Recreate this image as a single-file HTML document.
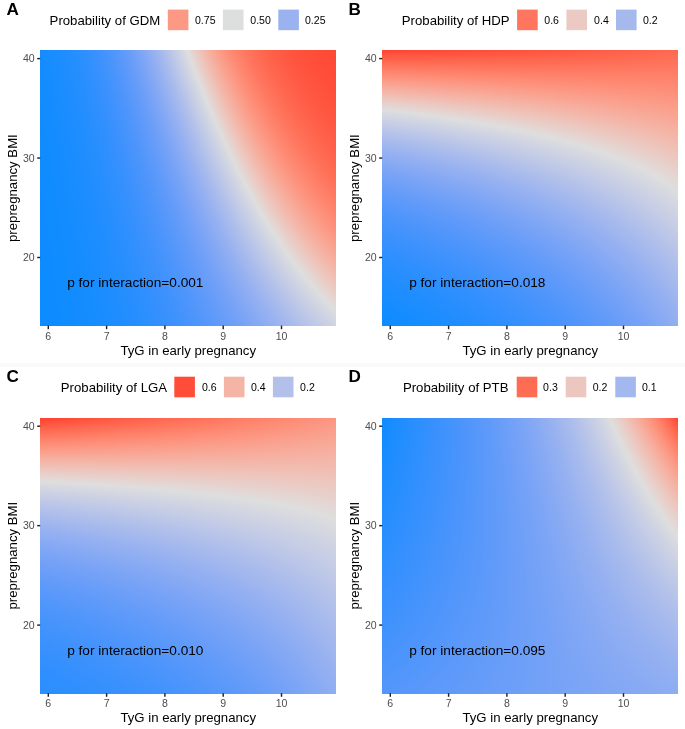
<!DOCTYPE html>
<html><head><meta charset="utf-8"><style>
html,body{margin:0;padding:0;background:#fff;}
#root{position:relative;width:685px;height:729px;overflow:hidden;background:#fff;font-family:"Liberation Sans", sans-serif;}
svg text{font-family:"Liberation Sans", sans-serif;}
#ov{filter:blur(0.3px);}
canvas{filter:blur(0.4px);}
</style></head><body><div id="root">
<div style="position:absolute;left:0;top:363px;width:685px;height:4px;background:#fafafa"></div>
<canvas id="c0" width="296" height="276" style="position:absolute;left:40px;top:50px;width:296px;height:276px;background:linear-gradient(62deg,#0c8cff 0%,#1a8cff 35%,#9ab4f0 58%,#dedede 70%,#f9a08a 80%,#ff5a40 100%)"></canvas><canvas id="c1" width="296" height="276" style="position:absolute;left:382px;top:50px;width:296px;height:276px;background:linear-gradient(12deg,#1a8cff 0%,#80a4f4 35%,#dedede 65%,#fa9078 85%,#ff5038 100%)"></canvas><canvas id="c2" width="296" height="276" style="position:absolute;left:40px;top:418px;width:296px;height:276px;background:linear-gradient(8deg,#2a8cff 0%,#90acf2 40%,#dedede 67%,#f8a894 85%,#ff5a40 100%)"></canvas><canvas id="c3" width="296" height="276" style="position:absolute;left:382px;top:418px;width:296px;height:276px;background:linear-gradient(61deg,#1a8cff 0%,#70a0f5 45%,#b0c0ee 70%,#dedede 84%,#ff6a50 100%)"></canvas>
<svg id="ov" width="685" height="729" style="position:absolute;left:0;top:0">
<g id="g0" transform="translate(0,0)"><text x="6.5" y="14.6" font-size="17.1" font-weight="bold" fill="#000">A</text><g transform="translate(0,0)"><text x="49.6" y="24.85" font-size="13.2" fill="#000">Probability of GDM</text><rect class="sw" x="167.8" y="9.6" width="20.6" height="20.6" fill="#fc9985"/><text x="195.0" y="23.6" font-size="10.56" fill="#000">0.75</text><rect class="sw" x="222.9" y="9.6" width="20.6" height="20.6" fill="#dddede"/><text x="250.3" y="23.6" font-size="10.56" fill="#000">0.50</text><rect class="sw" x="278.3" y="9.6" width="20.6" height="20.6" fill="#9ab3f0"/><text x="305.0" y="23.6" font-size="10.56" fill="#000">0.25</text></g><line x1="37.2" x2="40.2" y1="58.6" y2="58.6" stroke="#222" stroke-width="1.45"/><text x="34.7" y="62.38" font-size="10.56" fill="#4d4d4d" text-anchor="end">40</text><line x1="37.2" x2="40.2" y1="158.05" y2="158.05" stroke="#222" stroke-width="1.45"/><text x="34.7" y="161.83" font-size="10.56" fill="#4d4d4d" text-anchor="end">30</text><line x1="37.2" x2="40.2" y1="257.5" y2="257.5" stroke="#222" stroke-width="1.45"/><text x="34.7" y="261.28" font-size="10.56" fill="#4d4d4d" text-anchor="end">20</text><line x1="48.30" x2="48.30" y1="325.6" y2="329.2" stroke="#222" stroke-width="1.45"/><text x="48.30" y="339.8" font-size="10.56" fill="#4d4d4d" text-anchor="middle">6</text><line x1="106.60" x2="106.60" y1="325.6" y2="329.2" stroke="#222" stroke-width="1.45"/><text x="106.60" y="339.8" font-size="10.56" fill="#4d4d4d" text-anchor="middle">7</text><line x1="164.90" x2="164.90" y1="325.6" y2="329.2" stroke="#222" stroke-width="1.45"/><text x="164.90" y="339.8" font-size="10.56" fill="#4d4d4d" text-anchor="middle">8</text><line x1="223.20" x2="223.20" y1="325.6" y2="329.2" stroke="#222" stroke-width="1.45"/><text x="223.20" y="339.8" font-size="10.56" fill="#4d4d4d" text-anchor="middle">9</text><line x1="281.50" x2="281.50" y1="325.6" y2="329.2" stroke="#222" stroke-width="1.45"/><text x="281.50" y="339.8" font-size="10.56" fill="#4d4d4d" text-anchor="middle">10</text><text x="188.2" y="354.9" font-size="13.2" fill="#000" text-anchor="middle">TyG in early pregnancy</text><text transform="translate(17.3,188.1) rotate(-90)" x="0" y="0" font-size="13.2" fill="#000" text-anchor="middle">prepregnancy BMI</text><text x="67.2" y="287.3" font-size="13.66" fill="#000">p for interaction=0.001</text></g><g id="g1" transform="translate(342,0)"><text x="6.5" y="14.6" font-size="17.1" font-weight="bold" fill="#000">B</text><g transform="translate(0,0)"><text x="59.8" y="24.85" font-size="13.2" fill="#000">Probability of HDP</text><rect class="sw" x="175.1" y="9.6" width="20.6" height="20.6" fill="#ff755e"/><text x="202.3" y="23.6" font-size="10.56" fill="#000">0.6</text><rect class="sw" x="224.4" y="9.6" width="20.6" height="20.6" fill="#ebcac3"/><text x="252.1" y="23.6" font-size="10.56" fill="#000">0.4</text><rect class="sw" x="274.0" y="9.6" width="20.6" height="20.6" fill="#a5b9ed"/><text x="300.9" y="23.6" font-size="10.56" fill="#000">0.2</text></g><line x1="37.2" x2="40.2" y1="58.6" y2="58.6" stroke="#222" stroke-width="1.45"/><text x="34.7" y="62.38" font-size="10.56" fill="#4d4d4d" text-anchor="end">40</text><line x1="37.2" x2="40.2" y1="158.05" y2="158.05" stroke="#222" stroke-width="1.45"/><text x="34.7" y="161.83" font-size="10.56" fill="#4d4d4d" text-anchor="end">30</text><line x1="37.2" x2="40.2" y1="257.5" y2="257.5" stroke="#222" stroke-width="1.45"/><text x="34.7" y="261.28" font-size="10.56" fill="#4d4d4d" text-anchor="end">20</text><line x1="48.30" x2="48.30" y1="325.6" y2="329.2" stroke="#222" stroke-width="1.45"/><text x="48.30" y="339.8" font-size="10.56" fill="#4d4d4d" text-anchor="middle">6</text><line x1="106.60" x2="106.60" y1="325.6" y2="329.2" stroke="#222" stroke-width="1.45"/><text x="106.60" y="339.8" font-size="10.56" fill="#4d4d4d" text-anchor="middle">7</text><line x1="164.90" x2="164.90" y1="325.6" y2="329.2" stroke="#222" stroke-width="1.45"/><text x="164.90" y="339.8" font-size="10.56" fill="#4d4d4d" text-anchor="middle">8</text><line x1="223.20" x2="223.20" y1="325.6" y2="329.2" stroke="#222" stroke-width="1.45"/><text x="223.20" y="339.8" font-size="10.56" fill="#4d4d4d" text-anchor="middle">9</text><line x1="281.50" x2="281.50" y1="325.6" y2="329.2" stroke="#222" stroke-width="1.45"/><text x="281.50" y="339.8" font-size="10.56" fill="#4d4d4d" text-anchor="middle">10</text><text x="188.2" y="354.9" font-size="13.2" fill="#000" text-anchor="middle">TyG in early pregnancy</text><text transform="translate(17.3,188.1) rotate(-90)" x="0" y="0" font-size="13.2" fill="#000" text-anchor="middle">prepregnancy BMI</text><text x="67.2" y="287.3" font-size="13.66" fill="#000">p for interaction=0.018</text></g><g id="g2" transform="translate(0,367.6)"><text x="6.5" y="14.6" font-size="17.1" font-weight="bold" fill="#000">C</text><g transform="translate(0,-0.5)"><text x="60.8" y="24.85" font-size="13.2" fill="#000">Probability of LGA</text><rect class="sw" x="174.3" y="9.6" width="20.6" height="20.6" fill="#ff4d39"/><text x="202.0" y="23.6" font-size="10.56" fill="#000">0.6</text><rect class="sw" x="223.9" y="9.6" width="20.6" height="20.6" fill="#f4b5a7"/><text x="251.0" y="23.6" font-size="10.56" fill="#000">0.4</text><rect class="sw" x="272.9" y="9.6" width="20.6" height="20.6" fill="#b2c0ea"/><text x="300.1" y="23.6" font-size="10.56" fill="#000">0.2</text></g><line x1="37.2" x2="40.2" y1="58.6" y2="58.6" stroke="#222" stroke-width="1.45"/><text x="34.7" y="62.38" font-size="10.56" fill="#4d4d4d" text-anchor="end">40</text><line x1="37.2" x2="40.2" y1="158.05" y2="158.05" stroke="#222" stroke-width="1.45"/><text x="34.7" y="161.83" font-size="10.56" fill="#4d4d4d" text-anchor="end">30</text><line x1="37.2" x2="40.2" y1="257.5" y2="257.5" stroke="#222" stroke-width="1.45"/><text x="34.7" y="261.28" font-size="10.56" fill="#4d4d4d" text-anchor="end">20</text><line x1="48.30" x2="48.30" y1="325.6" y2="329.2" stroke="#222" stroke-width="1.45"/><text x="48.30" y="339.8" font-size="10.56" fill="#4d4d4d" text-anchor="middle">6</text><line x1="106.60" x2="106.60" y1="325.6" y2="329.2" stroke="#222" stroke-width="1.45"/><text x="106.60" y="339.8" font-size="10.56" fill="#4d4d4d" text-anchor="middle">7</text><line x1="164.90" x2="164.90" y1="325.6" y2="329.2" stroke="#222" stroke-width="1.45"/><text x="164.90" y="339.8" font-size="10.56" fill="#4d4d4d" text-anchor="middle">8</text><line x1="223.20" x2="223.20" y1="325.6" y2="329.2" stroke="#222" stroke-width="1.45"/><text x="223.20" y="339.8" font-size="10.56" fill="#4d4d4d" text-anchor="middle">9</text><line x1="281.50" x2="281.50" y1="325.6" y2="329.2" stroke="#222" stroke-width="1.45"/><text x="281.50" y="339.8" font-size="10.56" fill="#4d4d4d" text-anchor="middle">10</text><text x="188.2" y="354.9" font-size="13.2" fill="#000" text-anchor="middle">TyG in early pregnancy</text><text transform="translate(17.3,188.1) rotate(-90)" x="0" y="0" font-size="13.2" fill="#000" text-anchor="middle">prepregnancy BMI</text><text x="67.2" y="287.3" font-size="13.66" fill="#000">p for interaction=0.010</text></g><g id="g3" transform="translate(342,367.6)"><text x="6.5" y="14.6" font-size="17.1" font-weight="bold" fill="#000">D</text><g transform="translate(0,-0.5)"><text x="60.9" y="24.85" font-size="13.2" fill="#000">Probability of PTB</text><rect class="sw" x="174.7" y="9.6" width="20.6" height="20.6" fill="#ff6c54"/><text x="201.1" y="23.6" font-size="10.56" fill="#000">0.3</text><rect class="sw" x="223.7" y="9.6" width="20.6" height="20.6" fill="#ecc7bf"/><text x="250.7" y="23.6" font-size="10.56" fill="#000">0.2</text><rect class="sw" x="273.3" y="9.6" width="20.6" height="20.6" fill="#a3b8ee"/><text x="300.0" y="23.6" font-size="10.56" fill="#000">0.1</text></g><line x1="37.2" x2="40.2" y1="58.6" y2="58.6" stroke="#222" stroke-width="1.45"/><text x="34.7" y="62.38" font-size="10.56" fill="#4d4d4d" text-anchor="end">40</text><line x1="37.2" x2="40.2" y1="158.05" y2="158.05" stroke="#222" stroke-width="1.45"/><text x="34.7" y="161.83" font-size="10.56" fill="#4d4d4d" text-anchor="end">30</text><line x1="37.2" x2="40.2" y1="257.5" y2="257.5" stroke="#222" stroke-width="1.45"/><text x="34.7" y="261.28" font-size="10.56" fill="#4d4d4d" text-anchor="end">20</text><line x1="48.30" x2="48.30" y1="325.6" y2="329.2" stroke="#222" stroke-width="1.45"/><text x="48.30" y="339.8" font-size="10.56" fill="#4d4d4d" text-anchor="middle">6</text><line x1="106.60" x2="106.60" y1="325.6" y2="329.2" stroke="#222" stroke-width="1.45"/><text x="106.60" y="339.8" font-size="10.56" fill="#4d4d4d" text-anchor="middle">7</text><line x1="164.90" x2="164.90" y1="325.6" y2="329.2" stroke="#222" stroke-width="1.45"/><text x="164.90" y="339.8" font-size="10.56" fill="#4d4d4d" text-anchor="middle">8</text><line x1="223.20" x2="223.20" y1="325.6" y2="329.2" stroke="#222" stroke-width="1.45"/><text x="223.20" y="339.8" font-size="10.56" fill="#4d4d4d" text-anchor="middle">9</text><line x1="281.50" x2="281.50" y1="325.6" y2="329.2" stroke="#222" stroke-width="1.45"/><text x="281.50" y="339.8" font-size="10.56" fill="#4d4d4d" text-anchor="middle">10</text><text x="188.2" y="354.9" font-size="13.2" fill="#000" text-anchor="middle">TyG in early pregnancy</text><text transform="translate(17.3,188.1) rotate(-90)" x="0" y="0" font-size="13.2" fill="#000" text-anchor="middle">prepregnancy BMI</text><text x="67.2" y="287.3" font-size="13.66" fill="#000">p for interaction=0.095</text></g>
</svg>
</div>
<script>
(function(){
var P=[{"c": [-13.342934, 1.05922, -0.075848, 0.021831, -0.109277, 0.000533], "m": 0.5021012434302362, "k": 0.9975483483468346, "pv": [0.75, 0.5, 0.25]}, {"c": [-15.716459, 1.189345, 0.41242, -0.030431, -0.006375, 9.7e-05], "m": 0.3487703354840799, "k": 1.4475302182082495, "pv": [0.6, 0.4, 0.2]}, {"c": [-13.309278, 0.966537, 0.354223, -0.026617, -0.002216, 0.000258], "m": 0.306879328713677, "k": 1.6129926501584766, "pv": [0.6, 0.4, 0.2]}, {"c": [-2.297148, -0.10037, -0.170445, 0.021489, -0.006638, 0.000601], "m": 0.17252054659121394, "k": 3.0710522547693304, "pv": [0.3, 0.2, 0.1]}];
var LOW=[12,140,255],MID=[222,222,222],HIGH=[255,64,48];
function s2l(c){c/=255;return c<=0.04045?c/12.92:Math.pow((c+0.055)/1.055,2.4);}
function l2s(c){c=Math.max(0,Math.min(1,c));return 255*(c<=0.0031308?12.92*c:1.055*Math.pow(c,1/2.4)-0.055);}
var Wn=[0.95047,1,1.08883];
function f(t){var d=6/29;return t>d*d*d?Math.cbrt(t):t/(3*d*d)+4/29;}
function fi(t){var d=6/29;return t>d?t*t*t:3*d*d*(t-4/29);}
function lab(rgb){var r=s2l(rgb[0]),g=s2l(rgb[1]),b=s2l(rgb[2]);
var X=0.4124564*r+0.3575761*g+0.1804375*b,Y=0.2126729*r+0.7151522*g+0.0721750*b,Z=0.0193339*r+0.1191920*g+0.9503041*b;
var fx=f(X/Wn[0]),fy=f(Y/Wn[1]),fz=f(Z/Wn[2]);return [116*fy-16,500*(fx-fy),200*(fy-fz)];}
function rgb(L){var fy=(L[0]+16)/116,fx=fy+L[1]/500,fz=fy-L[2]/200;var X=fi(fx)*Wn[0],Y=fi(fy),Z=fi(fz)*Wn[2];
var r=3.2404542*X-1.5371385*Y-0.4985314*Z,g=-0.9692660*X+1.8760108*Y+0.0415560*Z,b=0.0556434*X-0.2040259*Y+1.0572252*Z;return [l2s(r),l2s(g),l2s(b)];}
var LL=lab(LOW),LM=lab(MID),LH=lab(HIGH);
function col(t){t=Math.max(0,Math.min(1,t));var a,b,u;if(t<0.5){a=LL;b=LM;u=t*2;}else{a=LM;b=LH;u=(t-0.5)*2;}
return rgb([a[0]+(b[0]-a[0])*u,a[1]+(b[1]-a[1])*u,a[2]+(b[2]-a[2])*u]);}
function tval(q,p){return 0.5+q.k*(p-q.m);}
var W=296,H=276;
for(var i=0;i<4;i++){var q=P[i];var cv=document.getElementById('c'+i);var cx=cv.getContext('2d');var im=cx.createImageData(W,H);var d=im.data;
var c=q.c;
for(var y=0;y<H;y++){var B=40-(50+y+0.5-58.4)/9.935;for(var x=0;x<W;x++){var T=6+(40+x+0.5-48.3)/58.3;
var e=c[0]+c[1]*T+c[2]*B+c[3]*T*B+c[4]*(T-8.4)*(T-8.4)+c[5]*(B-27)*(B-27);var p=1/(1+Math.exp(-e));var cc=col(tval(q,p));var o=(y*W+x)*4;
d[o]=cc[0];d[o+1]=cc[1];d[o+2]=cc[2];d[o+3]=255;}}
cx.putImageData(im,0,0);
}
})();
</script>
</body></html>
